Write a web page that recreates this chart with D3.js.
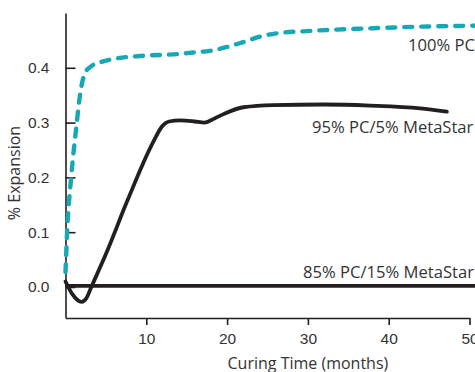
<!DOCTYPE html>
<html>
<head>
<meta charset="utf-8">
<script src="https://cdn.jsdelivr.net/npm/d3@7"></script>
<style>
  body { margin: 0; background: #fff; }
  svg { display: block; font-family: "Open Sans", "Noto Sans", sans-serif; }
  .axis path, .axis line { stroke: #231f20; stroke-width: 1.6; }
  .axis text { fill: #333; font-size: 15.5px; }
  .label { fill: #333; font-size: 16px; }
  .series { font-size: 16.6px; }
</style>
</head>
<body>
<svg width="475" height="372"></svg>
<script>
// % expansion vs curing time

var pcMonths   = [0, 0.2, 0.7, 1.4, 1.7, 2.4, 3.2, 4.3, 5.9, 9.6, 13.8, 15.8, 17.9, 20.0, 22.0, 24.1, 26.2, 29.9, 32.4, 37.7, 43.9, 51];
var pcValues   = [0.027, 0.1, 0.2, 0.3, 0.34, 0.39, 0.403, 0.41, 0.416, 0.422, 0.425, 0.428, 0.431, 0.438, 0.447, 0.457, 0.463, 0.467, 0.469, 0.472, 0.475, 0.477];

var ms5Months  = [0, 0.8, 2.0, 2.6, 3.2, 5, 7.7, 10.8, 12.0, 12.8, 14.2, 16.0, 17.2, 18.5, 19.5, 22.0, 25.7, 31.9, 37.7, 43.9, 47.2];
var ms5Values  = [0.01, -0.012, -0.027, -0.02, 0.0, 0.06, 0.159, 0.263, 0.294, 0.302, 0.304, 0.302, 0.300, 0.308, 0.315, 0.328, 0.332, 0.333, 0.331, 0.326, 0.32];

var ms15Months = [0, 25, 51];
var ms15Values = [0.002, 0.002, 0.002];

var seriesNames = ["100% PC", "95% PC/5% MetaStar", "85% PC/15% MetaStar"];
var xTicks = [10, 20, 30, 40, 50];
var yTicks = [0.0, 0.1, 0.2, 0.3, 0.4];

var svg = d3.select("svg");

var x = d3.scaleLinear().domain([0, 50]).range([65.5, 469.5]);
var y = d3.scaleLinear().domain([-0.0566, 0.5]).range([318, 13]);

// axes
var xAxis = d3.axisBottom(x).tickValues(xTicks).tickSizeInner(7).tickSizeOuter(0).tickPadding(8)
              .tickFormat(d3.format("d"));
svg.append("g")
   .attr("class", "axis")
   .attr("transform", "translate(0," + y.range()[0] + ")")
   .call(xAxis);

var yAxis = d3.axisLeft(y).tickValues(yTicks).tickSizeInner(-10).tickSizeOuter(0).tickPadding(16)
              .tickFormat(d3.format(".1f"));
svg.append("g")
   .attr("class", "axis")
   .attr("transform", "translate(" + x.range()[0] + ",0)")
   .call(yAxis);

// axis titles
svg.append("text")
   .attr("class", "label")
   .attr("x", x(30))
   .attr("y", 369)
   .attr("text-anchor", "middle")
   .text("Curing Time (months)");

svg.append("text")
   .attr("class", "label")
   .attr("transform", "translate(20," + y(0.208) + ") rotate(-90)")
   .attr("text-anchor", "middle")
   .text("% Expansion");

// lines
var line = d3.line()
    .x(function(d) { return x(d[0]); })
    .y(function(d) { return y(d[1]); })
    .curve(d3.curveMonotoneX);

var zip = function(a, b) { return a.map(function(v, i) { return [v, b[i]]; }); };

svg.append("path")
   .datum(zip(ms15Months, ms15Values))
   .attr("fill", "none")
   .attr("stroke", "#231f20")
   .attr("stroke-width", 3.6)
   .attr("d", line);

svg.append("path")
   .datum(zip(ms5Months, ms5Values))
   .attr("fill", "none")
   .attr("stroke", "#231f20")
   .attr("stroke-width", 3.8)
   .attr("stroke-linecap", "round")
   .attr("d", line);

svg.append("path")
   .datum(zip(pcMonths, pcValues))
   .attr("fill", "none")
   .attr("stroke", "#17a8b6")
   .attr("stroke-width", 4.4)
   .attr("stroke-dasharray", "8,9")
   .attr("stroke-linecap", "round")
   .attr("d", line);

// series labels
var labelSpots = [[42.4, 0.43], [30.5, 0.281], [29.4, 0.016]];
svg.selectAll(".series")
   .data(seriesNames)
   .enter().append("text")
   .attr("class", "label series")
   .attr("x", function(d, i) { return x(labelSpots[i][0]); })
   .attr("y", function(d, i) { return y(labelSpots[i][1]); })
   .text(function(d) { return d; });
</script>
</body>
</html>
